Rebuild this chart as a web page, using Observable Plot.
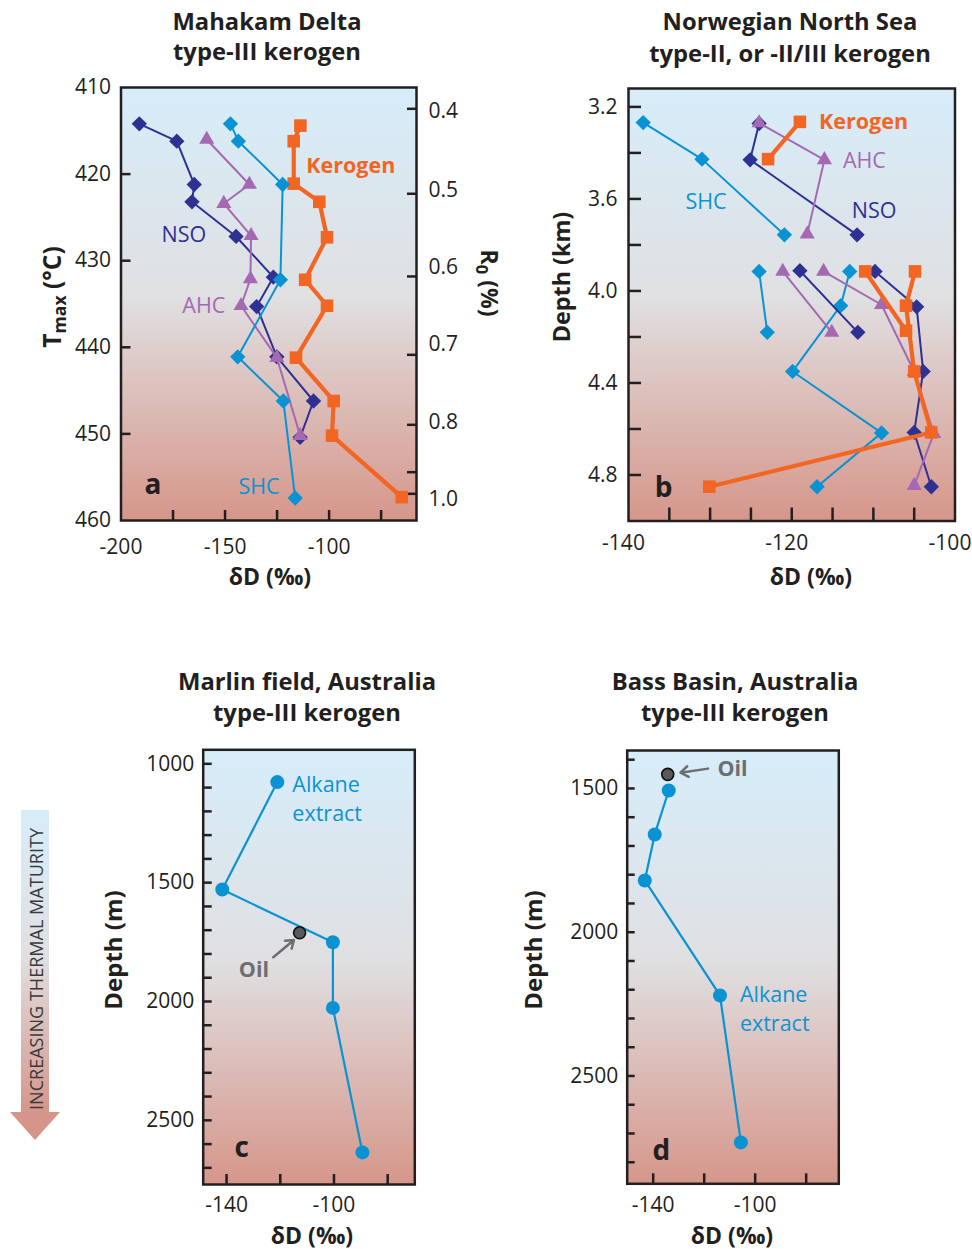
<!DOCTYPE html>
<html><head><meta charset="utf-8">
<script src="https://cdn.jsdelivr.net/npm/d3@7"></script>
<script src="https://cdn.jsdelivr.net/npm/@observablehq/plot@0.6"></script>
<style>
html,body{margin:0;padding:0;background:#fff;}
#root{position:relative;width:972px;height:1249px;overflow:hidden;font-family:'Open Sans',sans-serif;color:#231f20;}
.abs{position:absolute;white-space:nowrap;line-height:1;}
.abs sub{font-size:72%;vertical-align:-0.3em;line-height:0;}
.panel{position:absolute;}
.panel svg{overflow:visible;}
</style></head>
<body>
<svg width="0" height="0" style="position:absolute">
<defs>
<linearGradient id="bg" x1="0" y1="0" x2="0" y2="1">
<stop offset="0" stop-color="#d6edfa"/>
<stop offset="0.48" stop-color="#e0e0e2"/>
<stop offset="1" stop-color="#d6968a"/>
</linearGradient>
</defs></svg>
<div id="root"></div>
<script>
// ---------------- DATA ----------------
// Panel a: Mahakam Delta  [δD ‰, Tmax °C]
const aNSO = [[-191.2,414.2],[-173.2,416.2],[-164.8,421.2],[-165.9,423.2],[-144.7,427.2],[-126.8,431.9],[-134.8,435.3],[-125.1,441.1],[-107.5,446.2],[-113.9,450.4]];
const aAHC = [[-158.8,416.0],[-138.3,421.2],[-150.6,423.4],[-137.5,427.1],[-137.8,432.1],[-142.3,435.2],[-125.1,441.2],[-113.9,450.2]];
const aSHC = [[-147.4,414.2],[-143.6,416.2],[-122.3,421.2],[-123.4,432.2],[-143.9,441.1],[-122.0,446.2],[-116.3,457.4]];
const aKer = [[-113.8,414.4],[-117.0,416.2],[-117.0,421.1],[-104.7,423.2],[-101.0,427.3],[-111.5,432.2],[-101.0,435.2],[-115.9,441.2],[-97.8,446.2],[-98.6,450.2],[-65.1,457.3]];
const aXTicks = [-175,-150,-125,-100,-75];
const aXLabels = [-200,-150,-100];
const aYTicks = [420,430,440,450];
const aYLabels = [410,420,430,440,450,460];
const roTickT = [412.46,422.27,431.82,440.87,448.95,454.42,456.92];
const roLabelT = [412.8,421.9,430.8,439.7,448.6,457.6];
const roLabels = ["0.4","0.5","0.6","0.7","0.8","1.0"];
const aSeriesLabels = [["Kerogen",-89.6,419.1],["NSO",-169.8,427.0],["AHC",-160.2,435.3],["SHC",-133.7,456.1]];

// Panel b: Norwegian North Sea  [δD ‰, depth km, segment]
const bSHC = [[-138.2,3.268,0],[-131.0,3.427,0],[-120.9,3.756,0],[-124.0,3.915,1],[-123.0,4.18,1],[-112.9,3.915,2],[-114.0,4.064,2],[-119.9,4.35,2],[-109.0,4.617,2],[-116.9,4.851,2]];
const bNSO = [[-124.0,3.272,0],[-125.1,3.43,0],[-112.0,3.756,0],[-119.0,3.912,1],[-111.9,4.18,1],[-109.8,3.915,2],[-104.7,4.069,2],[-103.9,4.35,2],[-105.0,4.615,2],[-102.9,4.851,2]];
const bAHC = [[-124.0,3.27,0],[-116.0,3.43,0],[-118.1,3.753,0],[-121.1,3.915,1],[-115.1,4.18,1],[-116.1,3.915,2],[-109.0,4.06,2],[-105.0,4.35,2],[-102.6,4.62,2],[-105.0,4.846,2]];
const bKer = [[-119.0,3.265,0],[-122.9,3.427,0],[-111.0,3.915,1],[-106.0,4.173,1],[-104.9,3.915,2],[-106.0,4.064,2],[-105.0,4.35,2],[-102.9,4.615,2],[-130.1,4.851,2]];
const bXTicks = [-135,-130,-125,-120,-115,-110,-105];
const bXLabels = [-140,-120,-100];
const bYTicks = [3.2,3.4,3.6,3.8,4.0,4.2,4.4,4.6,4.8];
const bYLabels = [3.2,3.6,4.0,4.4,4.8];
const bSeriesLabels = [["Kerogen",-111.2,3.265],["AHC",-111.1,3.435],["SHC",-130.5,3.613],["NSO",-109.9,3.652]];

// Panel c: Marlin field  [δD ‰, depth m]
const cAlkane = [[-121.1,1077],[-141.6,1529],[-100.4,1751],[-100.4,2027],[-89.4,2635]];
const cOil = [[-112.8,1711]];
const cXTicks = [-140,-120,-100,-80];
const cXLabels = [-140,-100];
const cYTicks = [1000,1100,1200,1300,1400,1500,1600,1700,1800,1900,2000,2100,2200,2300,2400,2500,2600,2700];
const cYLabels = [1000,1500,2000,2500];
const cOilArrow = [[-122.6,1814,-114.9,1741]];
const cOilLabel = [["Oil",-129.8,1870]];
const cAlkLabel = [["Alkane",-115.5,1091],["extract",-115.5,1210]];

// Panel d: Bass Basin  [δD ‰, depth m]
const dAlkane = [[-133.9,1507],[-139.4,1660],[-143.3,1820],[-113.8,2220],[-105.6,2731]];
const dOil = [[-134.3,1451]];
const dXTicks = [-140,-120,-100,-80];
const dXLabels = [-140,-100];
const dYTicks = [1400,1500,1600,1700,1800,1900,2000,2100,2200,2300,2400,2500,2600,2700,2800];
const dYLabels = [1500,2000,2500];
const dOilArrow = [[-118.5,1431,-129.3,1445]];
const dOilLabel = [["Oil",-114.8,1431]];
const dAlkLabel = [["Alkane",-106.0,2220],["extract",-106.0,2319]];

const panelLetters = {a:[-184.6,455.9], b:[-135.7,4.855], c:[-134.4,2615], d:[-136.8,2762]};

// ---------------- STYLE ----------------
const INK = "#231f20";
const FONT = "'Open Sans', sans-serif";
const STY = {
  NSO: {color:"#2e3192", symbol:"diamond2", r:6.9, sw:2},
  AHC: {color:"#a569b1", symbol:"triangle", r:5.6, sw:2},
  SHC: {color:"#0a93d3", symbol:"diamond2", r:6.9, sw:2},
  Kerogen: {color:"#f26522", symbol:"square", r:7.1, sw:4.2}
};
const LBLUE = "#0a93d3";
const OILFILL = "#58595b";
const OILTXT = "#6d6e71";
const fmtInt = d => String(d);
const fmt1 = d => d.toFixed(1);

const root = document.getElementById("root");

function tickMarks(k, anchor, ticks, size) {
  const axis = k === "x" ? Plot.axisX : Plot.axisY;
  return axis(ticks, {anchor, tickSize: -size, fill: "none", stroke: INK, strokeWidth: 2.5, label: null});
}
function tickText(k, anchor, ticks, pad, fmt, dx = 0) {
  const axis = k === "x" ? Plot.axisX : Plot.axisY;
  return axis(ticks, {anchor, tickSize: 0, tickPadding: pad, tickFormat: fmt, fill: INK, fontSize: 21, dx, label: null});
}
function seriesMarks(data, key, z) {
  const s = STY[key];
  return [
    Plot.line(data, {x: d => d[0], y: d => d[1], z: z ? d => d[2] : undefined, stroke: s.color, strokeWidth: s.sw, strokeLinejoin: "round"}),
    Plot.dot(data, {x: d => d[0], y: d => d[1], symbol: s.symbol, r: s.r, fill: s.color, stroke: "none"})
  ];
}
function seriesLabels(list) {
  return list.map(([name, x, y]) => Plot.text([name], {x: () => x, y: () => y, text: d => d, fill: STY[name].color, fontSize: 21.5, fontWeight: name === "Kerogen" ? 700 : 400}));
}
function letter(ch) {
  const [x, y] = panelLetters[ch];
  return Plot.text([ch], {x: () => x, y: () => y, text: d => d, fill: INK, fontSize: 28, fontWeight: 700});
}
function mount(plot, left, top) {
  const div = document.createElement("div");
  div.className = "panel";
  div.style.left = left + "px";
  div.style.top = top + "px";
  div.appendChild(plot);
  root.appendChild(div);
}
function label(html, cx, cy, {size = 23, weight = 700, color = INK, rotate = 0} = {}) {
  const el = document.createElement("div");
  el.className = "abs";
  el.innerHTML = html;
  el.style.left = cx + "px";
  el.style.top = cy + "px";
  el.style.fontSize = size + "px";
  el.style.fontWeight = weight;
  el.style.color = color;
  el.style.transform = `translate(-50%,-50%) rotate(${rotate}deg)`;
  root.appendChild(el);
}
const baseStyle = {fontFamily: FONT, fontSize: "21px", color: INK, background: "transparent", overflow: "visible"};

// ---------------- PANEL A ----------------
mount(Plot.plot({
  width: 520, height: 600,
  marginLeft: 120.5, marginRight: 104, marginTop: 87, marginBottom: 80,
  x: {domain: [-200, -58]},
  y: {domain: [410, 460], reverse: true},
  style: baseStyle,
  marks: [
    Plot.frame({fill: "url(#bg)"}),
    tickMarks("x", "bottom", aXTicks, 10),
    tickMarks("y", "left", aYTicks, 10),
    tickMarks("y", "right", roTickT, 10),
    tickText("x", "bottom", aXLabels, 19, fmtInt),
    tickText("y", "left", aYLabels, 10, fmtInt),
    tickText("y", "right", roLabelT, 12, d => roLabels[roLabelT.indexOf(d)]),
    ...seriesMarks(aKer, "Kerogen"),
    ...seriesMarks(aNSO, "NSO"),
    ...seriesMarks(aAHC, "AHC"),
    ...seriesMarks(aSHC, "SHC"),
    ...seriesLabels(aSeriesLabels),
    letter("a"),
    Plot.frame({stroke: INK, strokeWidth: 2.5})
  ]
}), 0, 0);

// ---------------- PANEL B ----------------
mount(Plot.plot({
  width: 432, height: 600,
  marginLeft: 88, marginRight: 17.5, marginTop: 88, marginBottom: 79.5,
  x: {domain: [-140, -100]},
  y: {domain: [3.12, 5.0], reverse: true},
  style: baseStyle,
  marks: [
    Plot.frame({fill: "url(#bg)"}),
    tickMarks("x", "bottom", bXTicks, 13),
    tickMarks("y", "left", bYTicks, 13),
    tickText("x", "bottom", bXLabels, 14, fmtInt, -5),
    tickText("y", "left", bYLabels, 11, fmt1),
    ...seriesMarks(bSHC, "SHC", true),
    ...seriesMarks(bNSO, "NSO", true),
    ...seriesMarks(bAHC, "AHC", true),
    ...seriesMarks(bKer, "Kerogen", true),
    ...seriesLabels(bSeriesLabels),
    letter("b"),
    Plot.frame({stroke: INK, strokeWidth: 2.5})
  ]
}), 540, 0);

// ---------------- PANEL C / D ----------------
function depthPanel({alk, oil, xd, yd, xt, xl, yt, yl, arrow, oilLab, alkLab, ch, size, m, tickY}) {
  return Plot.plot({
    width: size[0], height: size[1],
    marginLeft: m[0], marginRight: m[1], marginTop: m[2], marginBottom: m[3],
    x: {domain: xd},
    y: {domain: yd, reverse: true},
    style: baseStyle,
    marks: [
      Plot.frame({fill: "url(#bg)"}),
      tickMarks("x", "bottom", xt, 10),
      tickMarks("y", "left", yt, tickY),
      tickText("x", "bottom", xl, 13, fmtInt),
      tickText("y", "left", yl, 9, fmtInt),
      Plot.line(alk, {x: d => d[0], y: d => d[1], stroke: LBLUE, strokeWidth: 2.2}),
      Plot.dot(alk, {x: d => d[0], y: d => d[1], r: 7, fill: LBLUE, stroke: "none"}),
      Plot.dot(oil, {x: d => d[0], y: d => d[1], r: 6, fill: OILFILL, stroke: "#111", strokeWidth: 1.6}),
      Plot.arrow(arrow, {x1: d => d[0], y1: d => d[1], x2: d => d[2], y2: d => d[3], stroke: OILTXT, strokeWidth: 2.5, headLength: 10, headAngle: 70}),
      Plot.text(oilLab, {x: d => d[1], y: d => d[2], text: d => d[0], fill: OILTXT, fontSize: 21.5, fontWeight: 700, textAnchor: ch === "d" ? "start" : "middle"}),
      Plot.text(alkLab, {x: d => d[1], y: d => d[2], text: d => d[0], fill: LBLUE, fontSize: 21.5, textAnchor: "start"}),
      letter(ch),
      Plot.frame({stroke: INK, strokeWidth: 2.5})
    ]
  });
}
mount(depthPanel({alk: cAlkane, oil: cOil, xd: [-148.7, -69.9], yd: [941, 2770], xt: cXTicks, xl: cXLabels, yt: cYTicks, yl: cYLabels,
  arrow: cOilArrow, oilLab: cOilLabel, alkLab: cAlkLabel, ch: "c", size: [400, 609], m: [122.7, 65.7, 109.3, 65], tickY: 9}), 80, 640);
mount(depthPanel({alk: dAlkane, oil: dOil, xd: [-150.2, -67.2], yd: [1368, 2875], xt: dXTicks, xl: dXLabels, yt: dYTicks, yl: dYLabels,
  arrow: dOilArrow, oilLab: dOilLabel, alkLab: dAlkLabel, ch: "d", size: [472, 609], m: [126.7, 133.7, 110, 65.7], tickY: 8}), 500, 640);

// ---------------- TITLES & AXIS TITLES ----------------
label("Mahakam Delta", 267, 21.5, {size: 23.8});
label("type-III kerogen", 267, 51.5, {size: 23.8});
label("Norwegian North Sea", 790, 21.5, {size: 23.8});
label("type-II, or -II/III kerogen", 790, 53.5, {size: 23.8});
label("Marlin field, Australia", 307, 681.5, {size: 23.8});
label("type-III kerogen", 307, 712.5, {size: 23.8});
label("Bass Basin, Australia", 735, 681.5, {size: 23.8});
label("type-III kerogen", 735, 712.5, {size: 23.8});

label("δD (‰)", 270, 576);
label("δD (‰)", 811, 576);
label("δD (‰)", 312, 1235);
label("δD (‰)", 732, 1235);
label("T<sub>max</sub> (°C)", 52, 297, {size: 24.5, rotate: -90});
label("R<sub>0</sub> (%)", 489, 283, {size: 23, rotate: 90});
label("Depth (km)", 562, 277, {size: 23.3, rotate: -90});
label("Depth (m)", 113, 950, {size: 24, rotate: -90});
label("Depth (m)", 533, 950, {size: 24, rotate: -90});

// ---------------- MATURITY ARROW ----------------
const ns = "http://www.w3.org/2000/svg";
const arr = document.createElementNS(ns, "svg");
arr.setAttribute("width", 70); arr.setAttribute("height", 350);
arr.style.position = "absolute"; arr.style.left = "0px"; arr.style.top = "800px";
arr.innerHTML = `
  <rect x="21" y="10" width="28" height="302" fill="url(#bg)"/>
  <polygon points="10,312 60,312 35,340" fill="#d6958a"/>
  <text x="0" y="0" transform="translate(36,169) rotate(-90)" text-anchor="middle" dominant-baseline="central"
    font-family="'Open Sans', sans-serif" font-size="17.5" fill="#3a3a3a" textLength="282" lengthAdjust="spacingAndGlyphs">INCREASING THERMAL MATURITY</text>`;
root.appendChild(arr);
</script>
</body></html>
